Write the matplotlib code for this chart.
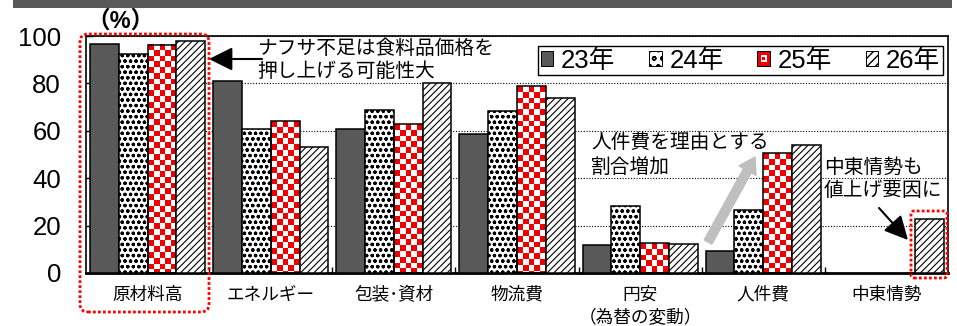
import numpy as np
import matplotlib
matplotlib.use('Agg')
import matplotlib.pyplot as plt
from matplotlib.patches import Patch, Rectangle, FancyBboxPatch
from matplotlib.legend_handler import HandlerBase
from matplotlib.colors import ListedColormap
from matplotlib.transforms import Affine2D

plt.rcParams['font.family'] = ['Liberation Sans', 'Noto Sans CJK JP']

# data
categories = ['原材料高', 'エネルギー', '包装･資材', '物流費', '円安\n（為替の変動）', '人件費', '中東情勢']
years = ['23年', '24年', '25年', '26年']
v23 = [96.5, 80.9, 60.8, 58.6, 11.7, 9.4, np.nan]
v24 = [92.5, 60.6, 68.6, 68.4, 28.3, 26.6, np.nan]
v25 = [96.3, 64.0, 62.7, 78.8, 12.5, 50.5, np.nan]
v26 = [97.9, 53.3, 80.0, 73.8, 12.1, 54.1, 22.7]

GRAY = '#595959'
RED = '#ee0000'
W, H = 957, 326

fig = plt.figure(figsize=(W / 100, H / 100), dpi=100)
# pixel transform, origin bottom-left
pxt = Affine2D().scale(1 / 100.) + fig.dpi_scale_trans

def py(y):
    return H - y

# header band
fig.patches.append(Rectangle((13, py(8)), 939, 8, facecolor=GRAY, edgecolor='none',
                             transform=pxt, figure=fig))

ax = fig.add_axes([86 / W, (H - 273) / H, 862 / W, 237 / H])

x = np.arange(len(categories))
bw = 0.234
offs = np.array([-1.5, -0.5, 0.5, 1.5]) * bw

ax.bar(x + offs[0], v23, bw, color=GRAY, edgecolor='black', lw=1.1, zorder=3)
with plt.rc_context({'hatch.linewidth': 0.9, 'hatch.color': 'black'}):
    ax.bar(x + offs[1], v24, bw, color='white', edgecolor='black', lw=1.1, hatch='ooo', zorder=3)
b25 = ax.bar(x + offs[2], v25, bw, color='none', edgecolor='black', lw=1.1, zorder=3)
with plt.rc_context({'hatch.linewidth': 0.8, 'hatch.color': '#222222'}):
    ax.bar(x + offs[3], v26, bw, color='white', edgecolor='black', lw=1.1, hatch='/////', zorder=3)

# checkerboard fill for 25年
sq = 2.43
cmap_chk = ListedColormap(['white', RED])
for rect in b25:
    h = rect.get_height()
    if not np.isfinite(h) or h <= 0:
        continue
    x0 = rect.get_x()
    nrows = int(np.ceil(h / sq))
    grid = (np.add.outer(np.arange(nrows), np.arange(5)) % 2 == 0).astype(float)
    ax.imshow(grid, cmap=cmap_chk, vmin=0, vmax=1, origin='upper', aspect='auto',
              interpolation='nearest', extent=(x0, x0 + rect.get_width(), h - nrows * sq, h),
              zorder=2, clip_path=rect)

ax.set_xlim(-0.5, len(categories) - 0.5)
ax.set_ylim(0, 100)
ax.set_aspect('auto')
ax.set_axisbelow(True)
ax.yaxis.grid(True, color='black', lw=0.8, linestyle=(0, (1, 1.5)))

ax.set_yticks([0, 20, 40, 60, 80, 100])
ax.tick_params(axis='y', direction='in', length=5, width=1, labelsize=18.5, pad=18)
ax.set_xticks(x)
ax.set_xticklabels(categories, fontsize=12.7, linespacing=1.38, va='top')
ax.tick_params(axis='x', which='major', length=0, pad=10)
ax.set_xticks(x[:-1] + 0.5, minor=True)
ax.tick_params(axis='x', which='minor', direction='in', length=4, width=1)
for s in ax.spines.values():
    s.set_linewidth(1.2)
ax.spines['bottom'].set_linewidth(2)

# (%) label
fig.text(86 / W, py(21) / H, '（%）', fontsize=17, fontweight='bold', ha='left', va='center')


# legend
class CheckerHandler(HandlerBase):
    def create_artists(self, legend, orig_handle, xdescent, ydescent, width, height, fontsize, trans):
        x0, y0 = -xdescent, -ydescent
        outer = Rectangle((x0, y0), width, height, facecolor=RED, edgecolor='black', lw=0.7, transform=trans)
        inner = Rectangle((x0 + width * 0.25, y0 + height * 0.25), width * 0.5, height * 0.5,
                          facecolor='white', edgecolor='none', transform=trans)
        dot = Rectangle((x0 + width * 0.4, y0 + height * 0.4), width * 0.2, height * 0.2,
                        facecolor=RED, edgecolor='none', transform=trans)
        return [outer, inner, dot]


with plt.rc_context({'hatch.linewidth': 1.0}):
    h24 = Patch(facecolor='white', edgecolor='black', lw=0.7, hatch='oo')
with plt.rc_context({'hatch.linewidth': 0.8}):
    h26 = Patch(facecolor='white', edgecolor='black', lw=0.7, hatch='////')
handles = [Patch(facecolor=GRAY, edgecolor='black', lw=0.7), h24, Patch(facecolor=RED), h26]
leg = ax.legend(handles, years, ncol=4, loc='upper right', bbox_to_anchor=(943, py(46)),
                bbox_transform=pxt, fontsize=18.5, handlelength=0.5, handleheight=0.5,
                handletextpad=0.3, columnspacing=1.3, borderpad=0.1, borderaxespad=0,
                fancybox=False, framealpha=1, edgecolor='black',
                handler_map={handles[2]: CheckerHandler()})
leg.get_frame().set_linewidth(1.0)
leg.set_zorder(5)

# annotations
def ptext(xp, yp, s):
    fig.text(xp / W, py(yp) / H, s, fontsize=14.2, ha='left', va='center')

ptext(257, 48, 'ナフサ不足は食料品価格を')
ptext(257, 72, '押し上げる可能性大')
ptext(591, 143, '人件費を理由とする')
ptext(591, 167, '割合増加')
ptext(824, 167, '中東情勢も')
ptext(824, 190, '値上げ要因に')

ax.annotate('', xy=(209, py(59)), xytext=(262, py(59)), xycoords=pxt, textcoords=pxt,
            arrowprops=dict(arrowstyle='-|>,head_length=0.9,head_width=0.45', color='black',
                            lw=1.5, mutation_scale=16, shrinkA=0, shrinkB=0))
ax.annotate('', xy=(755, py(157)), xytext=(708, py(242)), xycoords=pxt, textcoords=pxt,
            arrowprops=dict(arrowstyle='simple,head_length=0.8,head_width=1.0,tail_width=0.45',
                            color='#bfbfbf', mutation_scale=14, shrinkA=0, shrinkB=0))
ax.annotate('', xy=(908, py(240)), xytext=(879, py(208)), xycoords=pxt, textcoords=pxt,
            arrowprops=dict(arrowstyle='-|>,head_length=0.9,head_width=0.45', color='black',
                            lw=1.5, mutation_scale=16, shrinkA=0, shrinkB=0))

# red dotted highlight boxes
for (x0, y0, x1, y1, r) in [(80, 34, 209, 312, 8), (911, 211, 947, 278, 3)]:
    fig.patches.append(FancyBboxPatch((x0, py(y1)), x1 - x0, y1 - y0,
                                      boxstyle='round,pad=0,rounding_size=%d' % r,
                                      facecolor='none', edgecolor='#ff0000', lw=2.0,
                                      linestyle=(0, (1, 0.8)), transform=pxt, figure=fig,
                                      zorder=6))

fig.savefig('out.png', dpi=100)
